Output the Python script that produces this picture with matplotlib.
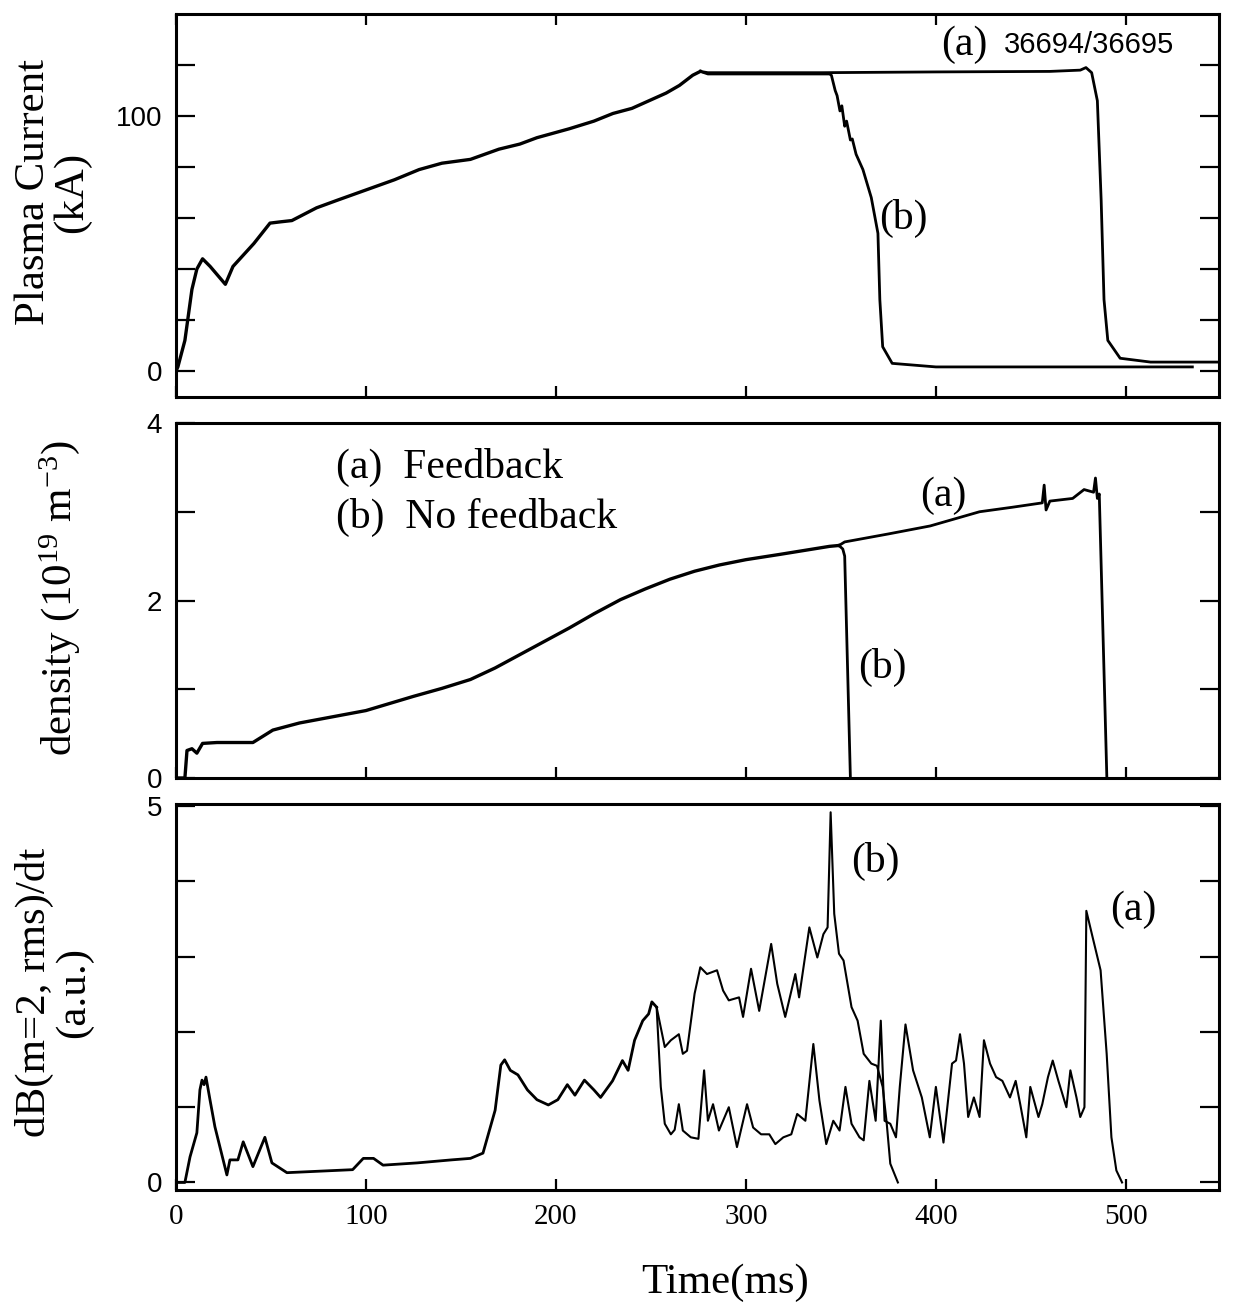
import matplotlib
matplotlib.use("Agg")
import matplotlib.pyplot as plt
from matplotlib.ticker import FixedLocator

plt.rcParams['mathtext.fontset'] = 'custom'
plt.rcParams['mathtext.rm'] = 'Liberation Serif'
plt.rcParams['mathtext.it'] = 'Liberation Serif:italic'

SERIF = 'Liberation Serif'
SANS = 'Liberation Sans'

# ---------------- data ----------------
x_ticks = [0, 100, 200, 300, 400, 500]

# Plasma current (kA)
t_ip_common = [0, 1, 4.7, 8.4, 11, 14, 18, 26, 30, 41, 49.5, 55, 61, 74, 85, 100, 115, 128, 140, 155,
               170, 181, 190, 207, 220, 230, 240, 249, 258, 265, 272, 276]
ip_common = [0, 1.6, 12, 32, 40, 44, 41, 34, 41, 50, 58, 58.5, 59, 64, 67, 71, 75, 79, 81.5, 83,
             87, 89, 91.5, 95, 98, 101, 103, 106, 109, 112, 116, 117.5]
t_ip_a = [280, 300, 340, 400, 460, 476, 479, 482, 485, 487, 488.5, 490.5, 497, 513, 549]
ip_a = [117, 117, 117, 117.3, 117.5, 118, 119, 117, 106, 67, 28, 12, 5, 3.5, 3.5]
t_ip_b = [280, 300, 344, 345, 347, 348, 349.5, 350.5, 352, 353, 355, 356, 358, 361.6, 366, 369.5,
          370.5, 372, 377, 400, 480, 535]
ip_b = [116.5, 116.5, 116.5, 116, 110, 108, 102, 104, 96, 98, 90.6, 91, 85, 79, 68, 54,
        28, 9.5, 3, 1.6, 1.6, 1.6]

# Density (1e19 m^-3)
t_ne_common = [0, 4.7, 5.8, 8.4, 11, 14, 21.6, 40.5, 51, 65, 100, 125, 140, 155, 168, 181, 194, 207,
               220, 234, 247, 260, 273, 286, 300, 318, 344, 349]
ne_common = [0, 0, 0.31, 0.33, 0.28, 0.39, 0.40, 0.40, 0.54, 0.62, 0.76, 0.92, 1.01, 1.11, 1.24, 1.39,
             1.54, 1.69, 1.85, 2.01, 2.13, 2.24, 2.33, 2.40, 2.46, 2.52, 2.61, 2.62]
t_ne_a = [352, 375, 397, 410, 423, 440, 456, 457, 458, 460, 472, 478, 483, 484, 485, 486, 490]
ne_a = [2.66, 2.75, 2.84, 2.92, 3.00, 3.05, 3.10, 3.30, 3.02, 3.12, 3.15, 3.25, 3.22, 3.38, 3.15, 3.20, 0.0]
t_ne_b = [351, 352, 355]
ne_b = [2.58, 2.50, 0.0]

# dB(m=2, rms)/dt (a.u.)
t_db_common = [0, 4.7, 7.4, 11, 12.6, 13.7, 14.8, 15.8, 17.9, 20.5, 26.8, 28.4, 32.6, 35.4, 40.5, 46.8,
               50.5, 58.4, 93, 98.6, 104, 109, 127, 145, 155, 161.6, 168, 171, 173, 176, 180, 185, 190,
               196, 201, 206, 210, 215, 220, 223.5, 229.8, 235, 238, 241.4, 245.7, 248.8, 250.5, 253]
db_common = [0, 0, 0.34, 0.66, 1.23, 1.36, 1.30, 1.40, 1.10, 0.74, 0.10, 0.30, 0.30, 0.54, 0.21, 0.60,
             0.26, 0.13, 0.17, 0.32, 0.32, 0.23, 0.26, 0.30, 0.32, 0.39, 0.96, 1.56, 1.63, 1.49, 1.43, 1.23, 1.10,
             1.03, 1.10, 1.30, 1.16, 1.36, 1.23, 1.13, 1.35, 1.62, 1.49, 1.89, 2.15, 2.24, 2.40, 2.33]
t_db_a = [255.2, 257.3, 260.5, 262.5, 264.7, 266.8, 271, 275, 278, 280, 282.7, 285.8, 291, 295.3,
          300.6, 303.8, 308, 312.3, 315.5, 319.7, 323.9, 327, 331.3, 335.5, 338.7, 342.3, 346, 349.3,
          352.4, 355.6, 359.8, 362, 365, 368.3, 371, 373, 376, 379, 381, 384, 388, 392.6, 396.8, 400,
          404, 408.5, 410.6, 412.7, 414.8, 417, 420, 423, 425.3, 428.5, 431.7, 435, 439, 442, 444.4,
          447.6, 449.7, 454, 456, 459, 461.5, 464.5, 468.7, 470.8, 474, 476, 478.2, 479.2, 482.5,
          486.7, 489.9, 492.4, 495, 498]
db_a = [1.27, 0.78, 0.64, 0.70, 1.04, 0.69, 0.60, 0.58, 1.49, 0.82, 1.04, 0.69, 1.00, 0.47,
        1.04, 0.73, 0.64, 0.64, 0.51, 0.60, 0.64, 0.91, 0.82, 1.84, 1.09, 0.51, 0.82, 0.69,
        1.27, 0.78, 0.60, 0.56, 1.35, 0.82, 2.15, 0.82, 0.78, 0.60, 1.27, 2.10, 1.49, 1.13, 0.60, 1.27,
        0.53, 1.58, 1.62, 1.97, 1.58, 0.87, 1.13, 0.87, 1.89, 1.58, 1.40, 1.35, 1.13, 1.35, 1.04,
        0.60, 1.27, 0.87, 1.04, 1.40, 1.62, 1.35, 1.00, 1.49, 1.13, 0.87, 1.00, 3.61, 3.26,
        2.82, 1.71, 0.60, 0.16, 0.0]
t_db_b = [257.3, 260.5, 264.7, 266.8, 269, 273, 276, 279.5, 284.8, 288, 291, 296.4, 298.5, 302.7,
          307, 313.3, 316.5, 320.7, 326, 328, 333.4, 337.6, 340.8, 343, 344.6, 346.5, 349, 351.4,
          355.6, 358.8, 362, 366, 369, 372, 374, 376, 380]
db_b = [1.80, 1.89, 1.97, 1.71, 1.75, 2.51, 2.86, 2.77, 2.82, 2.55, 2.42, 2.46, 2.20, 2.84,
        2.28, 3.17, 2.64, 2.20, 2.77, 2.46, 3.39, 2.99, 3.30, 3.39, 4.92, 3.57, 3.04, 2.95,
        2.33, 2.15, 1.71, 1.58, 1.55, 1.27, 0.82, 0.25, 0.0]

# --------------- figure ---------------
fig = plt.figure(figsize=(12.34, 13.12), dpi=100)
L, W = 0.1426, 0.8452
ax1 = fig.add_axes([L, 0.6974, W, 0.2919])
ax2 = fig.add_axes([L, 0.4070, W, 0.2706])
ax3 = fig.add_axes([L, 0.0930, W, 0.2942])

lw = 2.0
ax1.plot(t_ip_common, ip_common, color='k', lw=2.4)
ax1.plot([t_ip_common[-1]] + t_ip_a, [ip_common[-1]] + ip_a, color='k', lw=lw)
ax1.plot([t_ip_common[-1]] + t_ip_b, [ip_common[-1]] + ip_b, color='k', lw=lw)

ax2.plot(t_ne_common, ne_common, color='k', lw=2.4)
ax2.plot([t_ne_common[-1]] + t_ne_a, [ne_common[-1]] + ne_a, color='k', lw=lw)
ax2.plot([t_ne_common[-1]] + t_ne_b, [ne_common[-1]] + ne_b, color='k', lw=lw)

ax3.plot(t_db_common, db_common, color='k', lw=2.0)
ax3.plot([t_db_common[-1]] + t_db_a, [db_common[-1]] + db_a, color='k', lw=1.5)
ax3.plot([t_db_common[-1]] + t_db_b, [db_common[-1]] + db_b, color='k', lw=1.5)

for ax in (ax1, ax2, ax3):
    ax.set_xlim(0, 549)
    ax.xaxis.set_major_locator(FixedLocator(x_ticks))
    for s in ax.spines.values():
        s.set_linewidth(2.2)
    ax.tick_params(axis='y', which='both', direction='in', length=14, width=1.6,
                   left=True, right=True, pad=10)
    ax.tick_params(axis='x', which='both', direction='in', length=8, width=1.6,
                   bottom=True, pad=10)

ax1.tick_params(axis='x', top=True, labelbottom=False)
ax2.tick_params(axis='x', top=False, labelbottom=False)
ax3.tick_params(axis='x', top=False, labelbottom=True)

ax1.set_ylim(-10.2, 140)
ax1.yaxis.set_major_locator(FixedLocator([0, 100]))
ax1.yaxis.set_minor_locator(FixedLocator([20, 40, 60, 80, 120]))
ax2.set_ylim(0, 4.0)
ax2.yaxis.set_major_locator(FixedLocator([0, 2, 4]))
ax2.yaxis.set_minor_locator(FixedLocator([1, 3]))
ax3.set_ylim(-0.1, 5.03)
ax3.yaxis.set_major_locator(FixedLocator([0, 5]))
ax3.yaxis.set_minor_locator(FixedLocator([1, 2, 3, 4]))

for ax in (ax1, ax2, ax3):
    for lab in ax.get_yticklabels():
        lab.set_fontfamily(SANS)
        lab.set_fontsize(20)
for lab in ax3.get_xticklabels():
    lab.set_fontfamily(SERIF)
    lab.set_fontsize(21)

# annotations
tfs = 30
ax1.text(415, 128, '(a)', family=SERIF, fontsize=tfs, ha='center', va='center')
ax1.text(436, 128, '36694/36695', family=SANS, fontsize=21, ha='left', va='center')
ax1.text(383, 60, '(b)', family=SERIF, fontsize=tfs, ha='center', va='center')

ax2.text(84, 3.5, '(a)  Feedback', family=SERIF, fontsize=tfs, ha='left', va='center')
ax2.text(84, 2.94, '(b)  No feedback', family=SERIF, fontsize=tfs, ha='left', va='center')
ax2.text(404, 3.18, '(a)', family=SERIF, fontsize=tfs, ha='center', va='center')
ax2.text(372, 1.25, '(b)', family=SERIF, fontsize=tfs, ha='center', va='center')

ax3.text(368, 4.26, '(b)', family=SERIF, fontsize=tfs, ha='center', va='center')
ax3.text(504, 3.62, '(a)', family=SERIF, fontsize=tfs, ha='center', va='center')

# axis labels
lfs = 31
fig.text(53 / 1234, 1 - 192 / 1312, 'Plasma Current\n(kA)', family=SERIF, fontsize=lfs,
         rotation=90, ha='center', va='center', multialignment='center', linespacing=1.0)
fig.text(60 / 1234, 1 - 598 / 1312, r'density (10$^{19}$ m$^{-3}$)', family=SERIF, fontsize=lfs,
         rotation=90, ha='center', va='center')
fig.text(54 / 1234, 1 - 992 / 1312, 'dB(m=2, rms)/dt\n(a.u.)', family=SERIF, fontsize=lfs,
         rotation=90, ha='center', va='center', multialignment='center', linespacing=1.0)
fig.text(725 / 1234, 1 - 1283 / 1312, 'Time(ms)', family=SERIF, fontsize=lfs,
         ha='center', va='center')

fig.savefig('out.png', dpi=100)
